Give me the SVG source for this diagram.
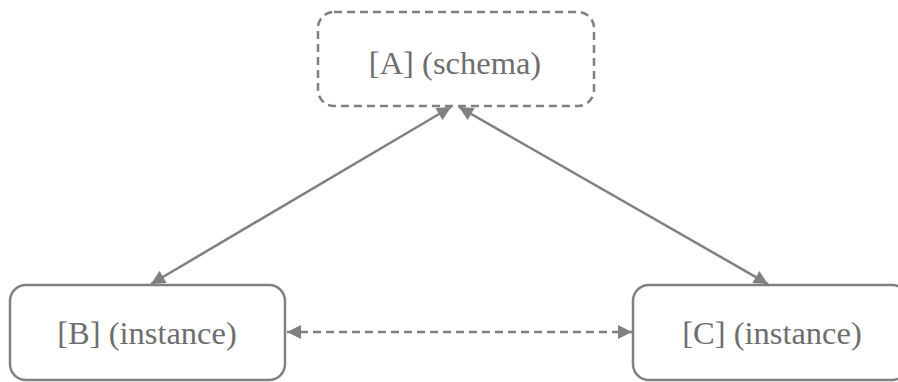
<svg xmlns="http://www.w3.org/2000/svg" width="898" height="382" viewBox="0 0 898 382">
  <style>
    .box { fill: #ffffff; stroke: #808080; stroke-width: 2.5; }
    .dash { stroke-dasharray: 8 5; }
    .label { font-family: "Liberation Serif", "DejaVu Serif", serif; font-size: 32.5px; fill: #6e6e6e; text-anchor: middle; }
    .edge { fill: none; stroke: #808080; stroke-width: 2.5; }
  </style>
  <defs>
    <marker id="head" viewBox="0 0 10 10" refX="10" refY="5" markerWidth="15" markerHeight="14" markerUnits="userSpaceOnUse" orient="auto-start-reverse">
      <path d="M0,0 L10,5 L0,10 z" fill="#808080"/>
    </marker>
  </defs>

  <g id="edges">
    <line class="edge" x1="451" y1="107" x2="151" y2="284" marker-start="url(#head)" marker-end="url(#head)"/>
    <line class="edge" x1="459" y1="107" x2="768" y2="284" marker-start="url(#head)" marker-end="url(#head)"/>
    <line class="edge dash" x1="287" y1="332" x2="632" y2="332" marker-start="url(#head)" marker-end="url(#head)"/>
  </g>

  <g id="node-a">
    <rect class="box dash" x="318" y="12" width="276" height="94" rx="16"/>
    <text class="label" x="455" y="74">[A] (schema)</text>
  </g>
  <g id="node-b">
    <rect class="box" x="10" y="285" width="275" height="95" rx="16"/>
    <text class="label" x="147" y="344">[B] (instance)</text>
  </g>
  <g id="node-c">
    <rect class="box" x="633" y="285" width="275" height="95" rx="16"/>
    <text class="label" x="772" y="344">[C] (instance)</text>
  </g>
</svg>
